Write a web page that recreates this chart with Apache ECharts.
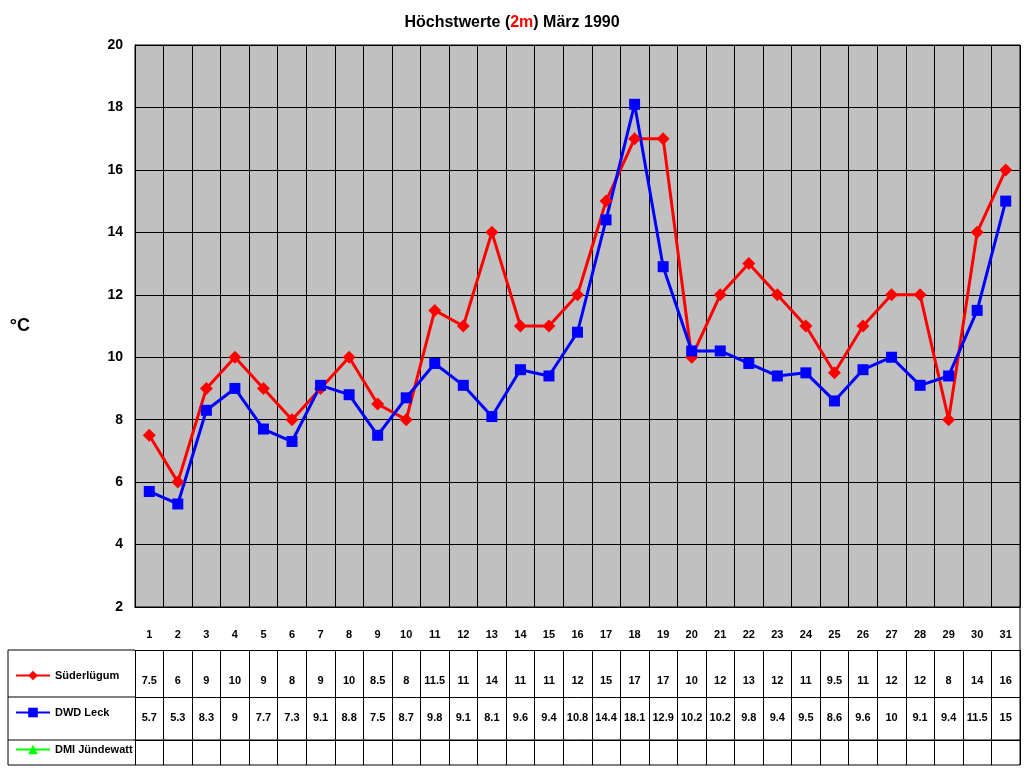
<!DOCTYPE html>
<html><head><meta charset="utf-8">
<script src="https://cdn.jsdelivr.net/npm/echarts@6/dist/echarts.min.js"></script>
<style>html,body{margin:0;padding:0;background:#fff}#c{width:1024px;height:768px}</style>
</head><body><div id="c"></div>
<script>
const days = Array.from({length:31},(_, i)=>String(i+1));
const suederluegum = [7.5,6,9,10,9,8,9,10,8.5,8,11.5,11,14,11,11,12,15,17,17,10,12,13,12,11,9.5,11,12,12,8,14,16];
const dwdLeck = [5.7,5.3,8.3,9,7.7,7.3,9.1,8.8,7.5,8.7,9.8,9.1,8.1,9.6,9.4,10.8,14.4,18.1,12.9,10.2,10.2,9.8,9.4,9.5,8.6,9.6,10,9.1,9.4,11.5,15];
const dmi = [];
const yTicks = [2,20,2];
const chart = echarts.init(document.getElementById('c'));
const F = 'Arial, "Liberation Sans", sans-serif';
const tbl = (data, offset, len, margin) => ({
  type:'category', data, position:'bottom', offset, gridIndex:0,
  axisLine:{show:true,lineStyle:{color:'#000',width:1}},
  axisTick:{show:true,length:len,lineStyle:{color:'#000'}},
  axisLabel:{show:true,margin,color:'#000',fontSize:11,fontWeight:'bold',fontFamily:F,interval:0},
  splitLine:{show:false}
});
const hl = (y)=>({type:'line',shape:{x1:8,y1:y,x2:135,y2:y},style:{stroke:'#000',lineWidth:1}});
chart.setOption({
  animation:false,
  title:{text:'Höchstwerte ({r|2m}) März 1990',left:'center',top:10,
    textStyle:{fontFamily:F,fontSize:16,fontWeight:'bold',color:'#000',
      rich:{r:{color:'#ff0000',fontSize:16,fontWeight:'bold',fontFamily:F,textBorderWidth:0}}}},
  grid:{left:135,right:4,top:45,bottom:161,show:true,backgroundColor:'#c0c0c0',borderColor:'#000',borderWidth:1},
  legend:{orient:'vertical',left:10,top:665,itemGap:26,itemWidth:34,itemHeight:12,
    textStyle:{fontFamily:F,fontSize:11,fontWeight:'bold',color:'#000'},
    data:['Süderlügum','DWD Leck','DMI Jündewatt']},
  xAxis:[
    {type:'category',data:days,position:'bottom',
     axisLine:{lineStyle:{color:'#000'}},axisTick:{length:43,lineStyle:{color:'#000'}},
     axisLabel:{margin:22,color:'#000',fontSize:11,fontWeight:'bold',fontFamily:F,interval:0},
     splitLine:{show:true,interval:0,lineStyle:{color:'#000',width:1}}},
    tbl(suederluegum.map(String),43,47,25),
    tbl(dwdLeck.map(String),90,43,15),
    tbl(days.map(()=>''),133,25,10)
  ],
  yAxis:{type:'value',min:yTicks[0],max:yTicks[1],interval:yTicks[2],
    name:'°C',nameLocation:'middle',nameGap:105,nameRotate:0,
    nameTextStyle:{fontFamily:F,fontSize:18,fontWeight:'bold',color:'#000'},
    axisLine:{show:true,lineStyle:{color:'#000'}},axisTick:{show:false},
    axisLabel:{color:'#000',fontSize:14,fontWeight:'bold',fontFamily:F,margin:12},
    splitLine:{lineStyle:{color:'#000',width:1}}},
  series:[
    {name:'Süderlügum',type:'line',data:suederluegum,color:'#ff0000',symbol:'diamond',symbolSize:13,
     lineStyle:{width:3},itemStyle:{color:'#ff0000'}},
    {name:'DWD Leck',type:'line',data:dwdLeck,color:'#0000ff',symbol:'rect',symbolSize:11,
     lineStyle:{width:3},itemStyle:{color:'#0000ff'}},
    {name:'DMI Jündewatt',type:'line',data:dmi,color:'#00ff00',symbol:'triangle',symbolSize:12,
     lineStyle:{width:3},itemStyle:{color:'#00ff00'}}
  ],
  graphic:[hl(650),hl(697),hl(740),hl(765),
    {type:'line',shape:{x1:8,y1:650,x2:8,y2:765},style:{stroke:'#000',lineWidth:1}},
    {type:'line',shape:{x1:135,y1:740,x2:1020,y2:740},style:{stroke:'#000',lineWidth:1}},
    {type:'line',shape:{x1:135,y1:765,x2:1020,y2:765},style:{stroke:'#000',lineWidth:1}},
    {type:'line',shape:{x1:1020,y1:607,x2:1020,y2:765},style:{stroke:'#000',lineWidth:1}}]
});
</script></body></html>
